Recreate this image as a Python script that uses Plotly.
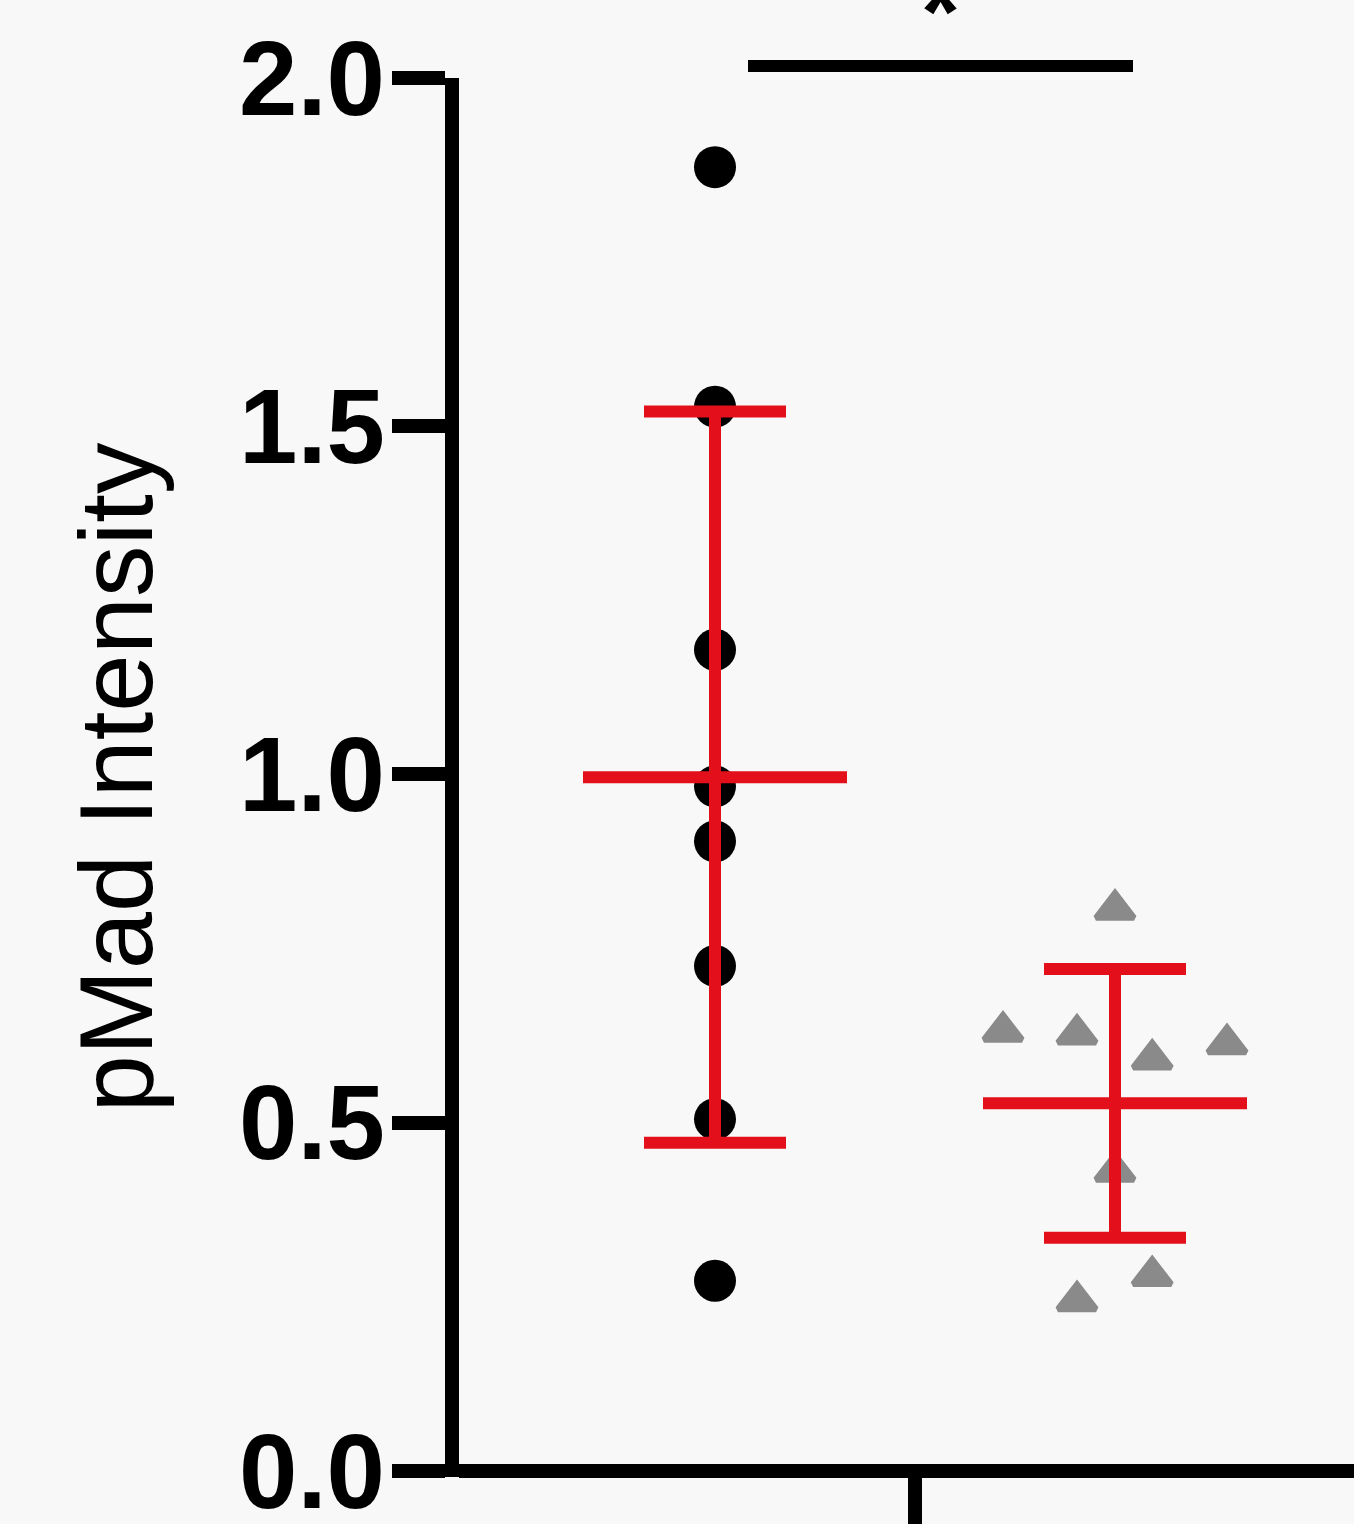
import numpy as np
import plotly.graph_objects as go

# ---- data ----
group_x = [1, 2]
group1_vals = [1.872, 1.528, 1.179, 0.983, 0.904, 0.725, 0.505, 0.273]
group1_jitter = [0, 0, 0, 0, 0, 0, 0, 0]
group2_vals = [0.806, 0.631, 0.627, 0.591, 0.613, 0.430, 0.280, 0.244]
group2_jitter = [0.0, -0.28, -0.095, 0.093, 0.28, 0.0, 0.093, -0.095]
y_tickvals = [0.0, 0.5, 1.0, 1.5, 2.0]
y_ticktext = ["0.0", "0.5", "1.0", "1.5", "2.0"]
y_title = "pMad Intensity"
sig_text = "*"

means = [float(np.mean(group1_vals)), float(np.mean(group2_vals))]
sds = [float(np.std(group1_vals, ddof=1)), float(np.std(group2_vals, ddof=1))]

RED = "#E3101B"
BG = "#F8F8F8"
FONT = "Liberation Sans, Arial, Helvetica, sans-serif"

fig = go.Figure()

fig.add_trace(go.Scatter(
    x=[group_x[0] + j for j in group1_jitter], y=group1_vals,
    mode="markers", marker=dict(symbol="circle", size=42, color="black"),
    showlegend=False, hoverinfo="y"))

fig.add_trace(go.Scatter(
    x=[group_x[1] + j for j in group2_jitter], y=group2_vals,
    mode="markers",
    marker=dict(symbol="triangle-up", size=33, color="#8A8A8A",
                line=dict(color="#8A8A8A", width=6)),
    showlegend=False, hoverinfo="y"))

# mean +/- SD
fig.add_trace(go.Scatter(
    x=group_x, y=means, mode="markers",
    marker=dict(size=1, color=RED, opacity=0),
    error_y=dict(type="data", array=sds, color=RED, thickness=12, width=71),
    error_x=dict(type="constant", value=0.33, color=RED, thickness=12, width=0),
    showlegend=False, hoverinfo="skip"))

# significance bar
fig.add_shape(type="line", xref="x", yref="paper",
              x0=1.0825, x1=2.045, y0=1.0086, y1=1.0086,
              line=dict(color="black", width=12))
fig.add_annotation(x=1.5625, xref="x", y=1.0086, yref="paper",
                   text=sig_text, showarrow=False, yanchor="bottom", yshift=-3,
                   font=dict(family=FONT, size=100, color="black", weight="bold"))

fig.update_layout(
    width=1354, height=1524,
    margin=dict(l=459, r=0, t=78, b=47, autoexpand=False),
    paper_bgcolor=BG, plot_bgcolor=BG,
    showlegend=False,
)

fig.update_xaxes(
    automargin=False,
    range=[0.36, 2.5975], showgrid=False, zeroline=False,
    showline=False,
    tickvals=[1.5], ticks="outside", ticklen=54, tickwidth=14, tickcolor="black",
    showticklabels=False,
)

fig.update_yaxes(
    automargin=False,
    range=[-0.0088, 2.0], showgrid=False,
    zeroline=True, zerolinecolor="black", zerolinewidth=14,
    showline=True, linecolor="black", linewidth=14,
    tickvals=y_tickvals, ticktext=y_ticktext,
    ticks="outside", ticklen=53, tickwidth=14, tickcolor="black",
    tickfont=dict(family=FONT, size=105, color="black", weight="bold"),
    ticklabelstandoff=-14, ticklabeloverflow="allow",
    title=dict(text=y_title, standoff=58,
               font=dict(family=FONT, size=103, color="black")),
)

fig.write_html(
    "out.html",
    config={"displayModeBar": False},
    post_script="document.body.style.margin='0';document.body.style.background='#F8F8F8';",
)
